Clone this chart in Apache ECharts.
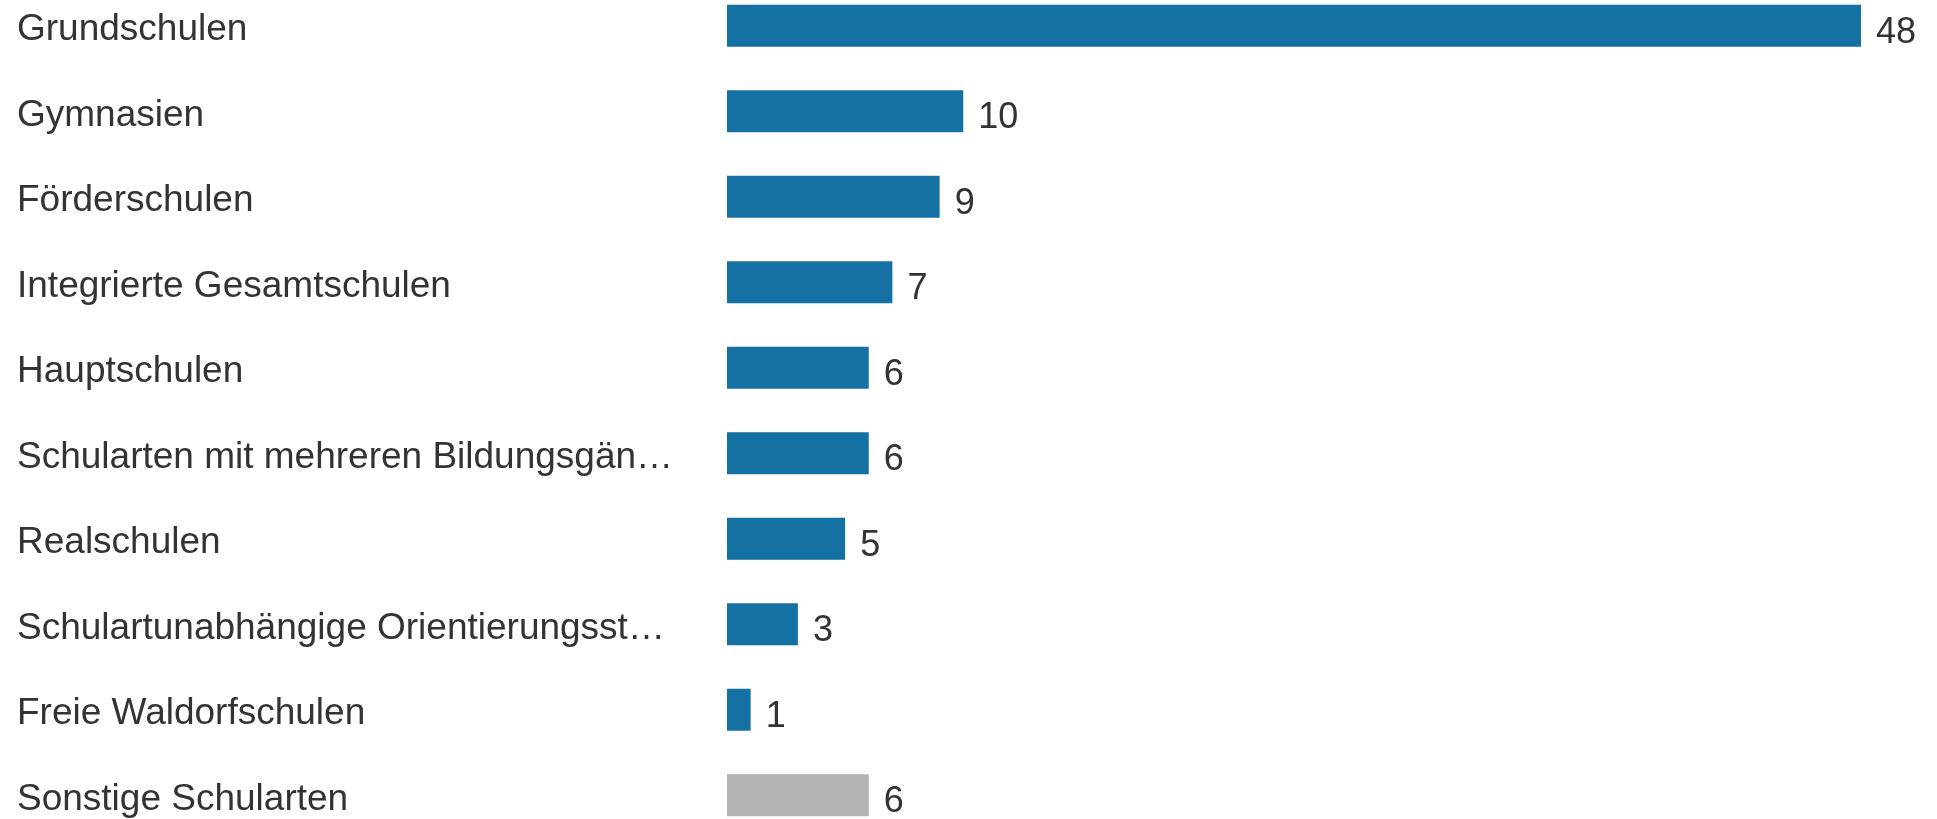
<!DOCTYPE html>
<html>
<head>
<meta charset="utf-8">
<script src="https://cdn.jsdelivr.net/npm/echarts@6/dist/echarts.min.js"></script>
<style>
html,body{margin:0;padding:0;background:#fff;overflow:hidden;width:1937px;height:819px;}
#chart{width:1937px;height:855px;position:absolute;left:0;top:-16.75px;}
</style>
</head>
<body>
<div id="chart"></div>
<script>
const categories = [
  "Grundschulen",
  "Gymnasien",
  "Förderschulen",
  "Integrierte Gesamtschulen",
  "Hauptschulen",
  "Schularten mit mehreren Bildungsgän…",
  "Realschulen",
  "Schulartunabhängige Orientierungsst…",
  "Freie Waldorfschulen",
  "Sonstige Schularten"
];
const values = [48, 10, 9, 7, 6, 6, 5, 3, 1, 6];
const isOther = [false, false, false, false, false, false, false, false, false, true];

const BLUE = '#1570a3';
const GRAY = '#b3b3b3';
const FONT = 'Liberation Sans, Arial, sans-serif';

const chart = echarts.init(document.getElementById('chart'));
chart.setOption({
  animation: false,
  grid: { left: 727, right: 76, top: 0, bottom: 0, containLabel: false },
  xAxis: {
    type: 'value', min: 0, max: 48,
    show: false
  },
  yAxis: {
    type: 'category', data: categories, inverse: true,
    axisLine: { show: false }, axisTick: { show: false },
    axisLabel: {
      align: 'left', margin: 710,
      formatter: '{a|{value}}',
      rich: {
        a: { padding: [9, 0, 0, 0], fontFamily: FONT, fontSize: 37, color: '#333333' }
      },
      fontFamily: FONT,
      fontSize: 37, color: '#333333'
    }
  },
  series: [{
    type: 'bar',
    barWidth: 42,
    data: values.map((v, i) => ({ value: v, itemStyle: { color: isOther[i] ? GRAY : BLUE } })),
    label: {
      show: true, position: 'right', distance: 15, offset: [0, 7],
      fontFamily: FONT,
      fontSize: 36, color: '#333333'
    }
  }]
});
</script>
</body>
</html>
